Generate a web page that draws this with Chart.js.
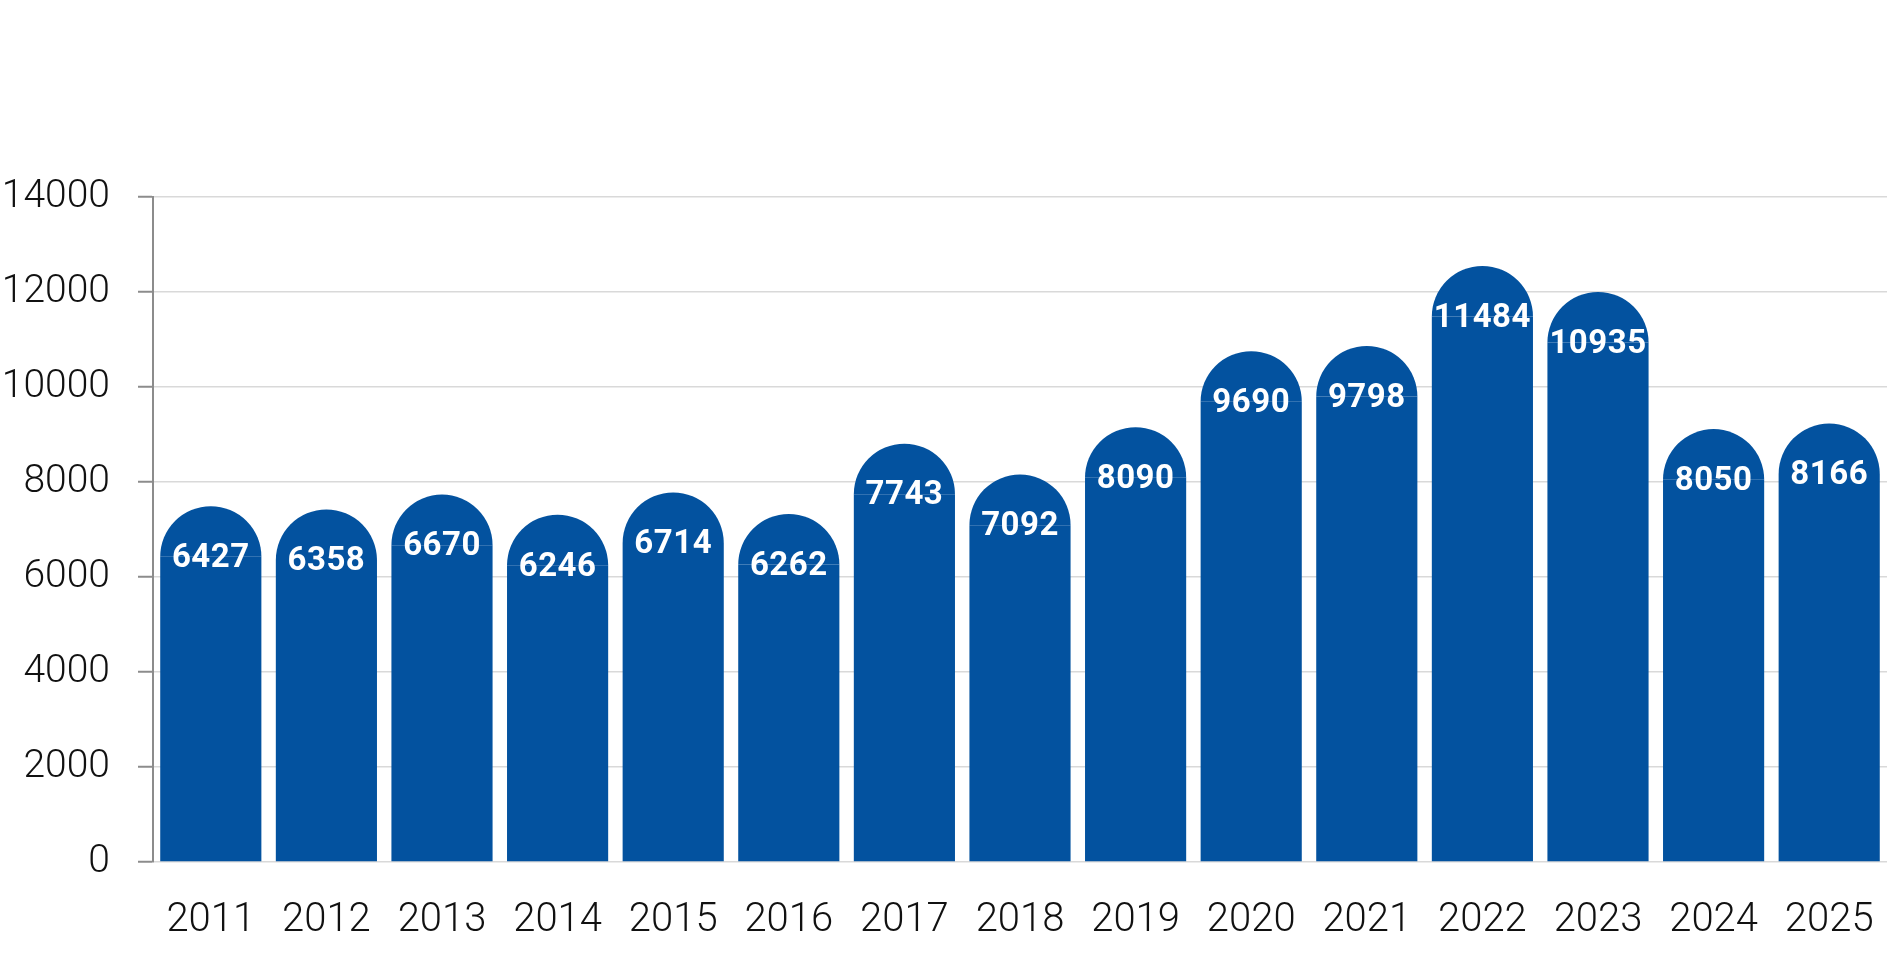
<!DOCTYPE html>
<html>
<head>
<meta charset="utf-8">
<script src="https://cdn.jsdelivr.net/npm/chart.js@4.4.1/dist/chart.umd.min.js"></script>
<style>
  html, body { margin: 0; padding: 0; background: #fff; }
  #wrap { width: 1892px; height: 965px; }
</style>
</head>
<body>
<div id="wrap"><canvas id="myChart" width="1892" height="965"></canvas></div>
<script>
// data
const years = ['2011', '2012', '2013', '2014', '2015', '2016', '2017', '2018',
               '2019', '2020', '2021', '2022', '2023', '2024', '2025'];
const counts = [6427, 6358, 6670, 6246, 6714, 6262, 7743, 7092,
                8090, 9690, 9798, 11484, 10935, 8050, 8166];
const yTicks = [0, 2000, 4000, 6000, 8000, 10000, 12000, 14000];

const barColor = '#03529f';
const tickFont = 'Roboto, "DejaVu Sans Condensed", sans-serif';

// half circle on top of each bar + value label in it
const roundTops = {
  id: 'roundTops',
  afterDatasetsDraw(chart) {
    const ctx = chart.ctx;
    const meta = chart.getDatasetMeta(0);
    ctx.save();
    meta.data.forEach((bar, i) => {
      const r = bar.width / 2;
      ctx.fillStyle = barColor;
      ctx.beginPath();
      ctx.arc(bar.x, bar.y, r, Math.PI, 0);
      ctx.closePath();
      ctx.fill();

      ctx.fillStyle = '#fff';
      ctx.font = 'bold 33px ' + tickFont;
      ctx.letterSpacing = '0.5px';
      ctx.textAlign = 'center';
      ctx.textBaseline = 'middle';
      ctx.fillText(String(counts[i]), bar.x, bar.y + 2);
    });
    ctx.restore();
  }
};

const ctx = document.getElementById('myChart').getContext('2d');
const myChart = new Chart(ctx, {
  type: 'bar',
  data: {
    labels: years,
    datasets: [{
      label: '',
      data: counts,
      backgroundColor: barColor,
      borderWidth: 0,
      categoryPercentage: 1,
      barPercentage: 0.875
    }]
  },
  options: {
    responsive: false,
    animation: false,
    devicePixelRatio: 1,
    layout: {
      padding: { top: 197, right: 5, bottom: 0, left: 0 }
    },
    plugins: {
      legend: { display: false },
      tooltip: { enabled: false }
    },
    scales: {
      x: {
        grid: { display: false, drawTicks: false },
        border: { display: false },
        afterFit: (scale) => {
          scale.height = 103;
          scale.paddingLeft = 0;
          scale.paddingRight = 0;
        },
        ticks: {
          color: '#111',
          padding: 35,
          maxRotation: 0,
          font: { family: tickFont, size: 40, weight: '300' }
        }
      },
      y: {
        min: 0,
        max: 14000,
        afterBuildTicks: (scale) => {
          scale.ticks = yTicks.map(v => ({ value: v }));
        },
        afterFit: (scale) => { scale.width = 153; },
        grid: {
          color: '#d9d9d9',
          lineWidth: 1.5,
          tickColor: '#8c8c8c',
          tickWidth: 2,
          tickLength: 15
        },
        border: { color: '#8c8c8c', width: 2 },
        ticks: {
          color: '#111',
          padding: 28,
          callback: (v) => String(v),
          font: { family: tickFont, size: 39, weight: '300' }
        }
      }
    }
  },
  plugins: [roundTops]
});
</script>
</body>
</html>
